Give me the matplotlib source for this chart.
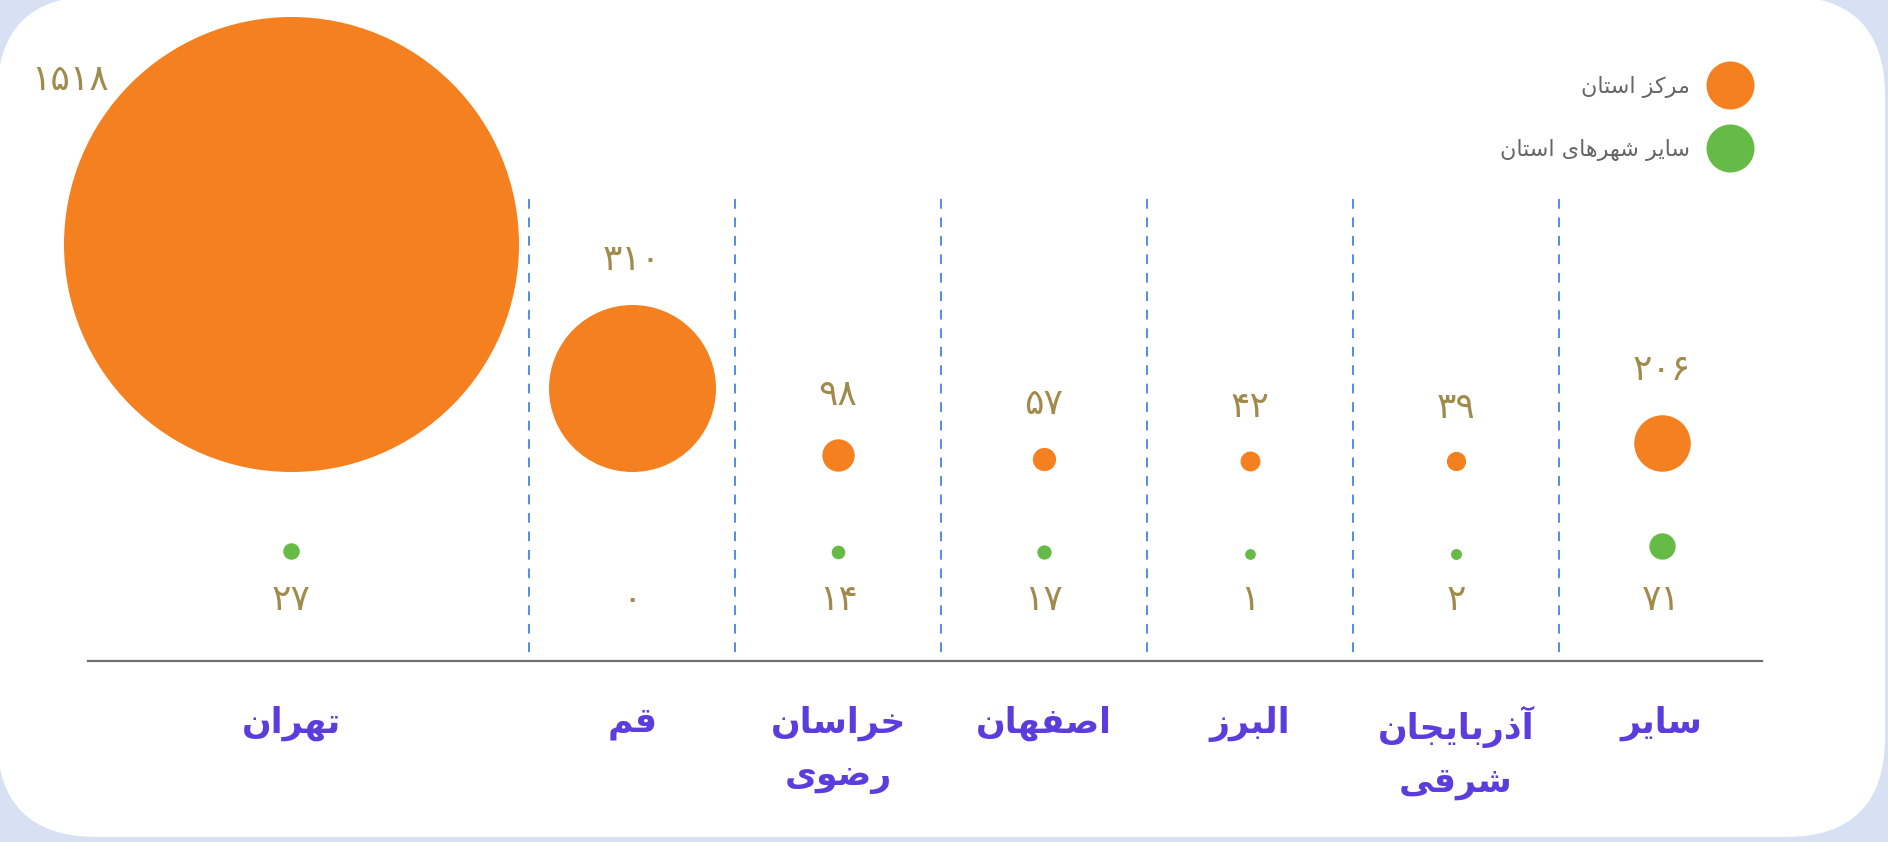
import numpy as np
import matplotlib
matplotlib.use('Agg')
import matplotlib.pyplot as plt
from matplotlib.patches import FancyBboxPatch

plt.rcParams['font.family'] = ['DejaVu Sans']

# data
provinces = ['تهران', 'قم', 'خراسان\nرضوی', 'اصفهان', 'البرز', 'آذربایجان\nشرقی', 'سایر']
center_vals = [1518, 310, 98, 57, 42, 39, 206]
other_vals = [27, 0, 14, 17, 1, 2, 71]
legend_labels = ['مرکز استان', 'سایر شهرهای استان']

ORANGE = '#f58020'
GREEN = '#66bb46'
NUM_COL = '#a08a4c'
CAT_COL = '#5a3ddc'
DASH_COL = '#4f8de6'
BG = '#d7e1f3'

# simple persian shaping (matplotlib has no arabic text layout)
FORMS = {
    'ا': ('\ufe8d', '\ufe8e'), 'آ': ('\ufe81', '\ufe82'),
    'ب': ('\ufe8f', '\ufe90', '\ufe91', '\ufe92'), 'ت': ('\ufe95', '\ufe96', '\ufe97', '\ufe98'),
    'ج': ('\ufe9d', '\ufe9e', '\ufe9f', '\ufea0'), 'خ': ('\ufea5', '\ufea6', '\ufea7', '\ufea8'),
    'ذ': ('\ufeab', '\ufeac'), 'ر': ('\ufead', '\ufeae'), 'ز': ('\ufeaf', '\ufeb0'),
    'س': ('\ufeb1', '\ufeb2', '\ufeb3', '\ufeb4'), 'ش': ('\ufeb5', '\ufeb6', '\ufeb7', '\ufeb8'),
    'ص': ('\ufeb9', '\ufeba', '\ufebb', '\ufebc'), 'ض': ('\ufebd', '\ufebe', '\ufebf', '\ufec0'),
    'ف': ('\ufed1', '\ufed2', '\ufed3', '\ufed4'), 'ق': ('\ufed5', '\ufed6', '\ufed7', '\ufed8'),
    'ل': ('\ufedd', '\ufede', '\ufedf', '\ufee0'), 'م': ('\ufee1', '\ufee2', '\ufee3', '\ufee4'),
    'ن': ('\ufee5', '\ufee6', '\ufee7', '\ufee8'), 'ه': ('\ufee9', '\ufeea', '\ufeeb', '\ufeec'),
    'و': ('\ufeed', '\ufeee'), 'ک': ('\ufb8e', '\ufb8f', '\ufb90', '\ufb91'),
    'ی': ('\ufbfc', '\ufbfd', '\ufbfe', '\ufbff'),
}


def shape_line(s):
    out = []
    for i, c in enumerate(s):
        if c not in FORMS:
            out.append(c)
            continue
        f = FORMS[c]
        prev = s[i - 1] if i > 0 else ''
        nxt = s[i + 1] if i + 1 < len(s) else ''
        jp = prev in FORMS and len(FORMS[prev]) == 4
        jn = len(f) == 4 and nxt in FORMS
        if jp and jn:
            out.append(f[3])
        elif jp:
            out.append(f[1])
        elif jn:
            out.append(f[2])
        else:
            out.append(f[0])
    return ''.join(out)[::-1]


def fa(s):
    return '\n'.join(shape_line(l) for l in s.split('\n'))


def fa_num(v):
    return str(v).translate(str.maketrans('0123456789', '۰۱۲۳۴۵۶۷۸۹'))


# value -> circle diameter (px), piecewise scale
size_dom = [0, 1, 206, 310, 1518]
size_rng = [0, 10.7, 56.5, 167, 455]


def diam(v):
    return np.interp(v, size_dom, size_rng)


W, H = 1888, 842
fig = plt.figure(figsize=(W / 100, H / 100), dpi=100, facecolor=BG)

# white rounded card in pixel units
bg = fig.add_axes([0, 0, 1, 1], zorder=0)
bg.set_xlim(0, W)
bg.set_ylim(H, 0)
bg.set_axis_off()
bg.add_patch(FancyBboxPatch((-3, -4), 1888, 841, boxstyle='round,pad=0,rounding_size=100',
                            facecolor='white', edgecolor='none'))

ax = fig.add_axes([0, 0, 1, 1], zorder=1)
ax.patch.set_visible(False)
ax.set_axis_off()
step = 205.9
x0 = 632.2
ax.set_xlim((0 - x0) / step + 1, (W - x0) / step + 1)
ax.set_ylim(H, 0)

xpos = [-0.657, 1, 2, 3, 4, 5, 6]
orange_base = 471
green_base = 559

# separators and baseline
for xs in np.arange(0.5, 6, 1):
    ax.plot([xs, xs], [199, 661], color=DASH_COL, lw=1.4, ls=(0, (5, 4.5)))
ax.plot([(88 - x0) / step + 1, (1762 - x0) / step + 1], [661, 661], color='#6f6f6f', lw=1.6)

for i, (name, cv, ov) in enumerate(zip(provinces, center_vals, other_vals)):
    x = xpos[i]
    d = diam(cv)
    ax.scatter([x], [orange_base - d / 2], s=(d * 0.72) ** 2, color=ORANGE, lw=0, zorder=3)
    if ov > 0:
        dg = diam(ov)
        ax.scatter([x], [green_base - dg / 2], s=(dg * 0.72) ** 2, color=GREEN, lw=0, zorder=3)
    if i == 0:
        ax.text((70 - x0) / step + 1, 80, fa_num(cv), fontsize=26, color=NUM_COL,
                ha='center', va='center')
    else:
        ax.text(x, orange_base - d - 44, fa_num(cv), fontsize=26, color=NUM_COL,
                ha='center', va='center')
    ax.text(x, 600, fa_num(ov), fontsize=26, color=NUM_COL, ha='center', va='center')
    ax.text(x, 706, fa(name), fontsize=25, fontweight='bold', color=CAT_COL,
            ha='center', va='top', linespacing=1.6)

# legend
lx = (1730 - x0) / step + 1
for ly, col, lab in [(85, ORANGE, legend_labels[0]), (148, GREEN, legend_labels[1])]:
    ax.scatter([lx], [ly], s=(48 * 0.72) ** 2, color=col, lw=0)
    ax.text((1690 - x0) / step + 1, ly + 2, fa(lab), fontsize=16, color='#666666',
            ha='right', va='center')

fig.savefig('out.png', dpi=100, facecolor=BG)
